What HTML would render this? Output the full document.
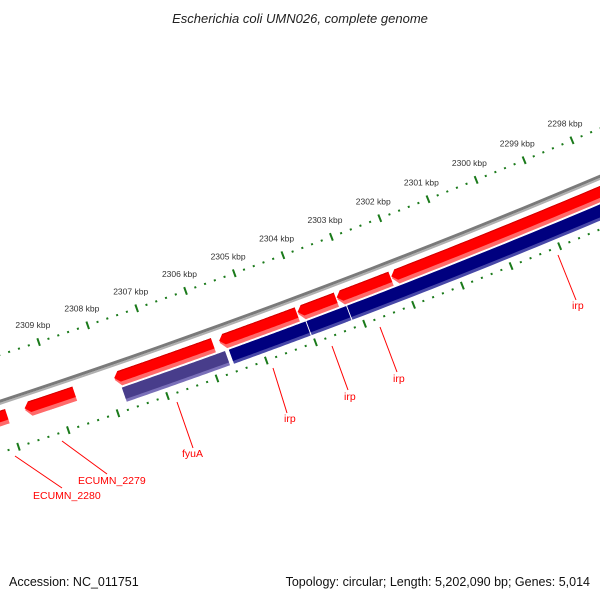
<!DOCTYPE html>
<html><head><meta charset="utf-8"><style>
html,body{margin:0;padding:0;background:#fff;}
svg{display:block;font-family:"Liberation Sans","DejaVu Sans",sans-serif;}
</style></head><body>
<svg id="map" width="600" height="600" viewBox="0 0 600 600" xmlns="http://www.w3.org/2000/svg">
<text x="300" y="23" text-anchor="middle" font-size="13" font-style="italic" fill="#222">Escherichia coli UMN026, complete genome</text>
<g id="rings"></g>
<g id="labels"></g>
<text x="9" y="586" font-size="12.5" fill="#111">Accession: NC_011751</text>
<text x="590" y="586" text-anchor="end" font-size="12.5" fill="#111">Topology: circular; Length: 5,202,090 bp; Genes: 5,014</text>
</svg>
<script>
const tickLabels=["2298 kbp","2299 kbp","2300 kbp","2301 kbp","2302 kbp","2303 kbp","2304 kbp","2305 kbp","2306 kbp","2307 kbp","2308 kbp","2309 kbp"];
const tickKbp=[2298,2299,2300,2301,2302,2303,2304,2305,2306,2307,2308,2309];
const fwdLo=[2310.02,2308.66,2305.85,2304.14,2303.34,2302.22,2296];
const fwdHi=[2311,2309.66,2307.85,2305.72,2304.12,2303.32,2302.2];
const revLo=[2305.68,2304.04,2303.21,2296];
const revHi=[2307.77,2305.6,2304.02,2303.19];
const revColor=["#483d8b","#00007f","#00007f","#00007f"];

const NS="http://www.w3.org/2000/svg";
const CX=-2433,CY=-6998,A0=71.39,K0=2309,DEG=0.3836;
function ang(k){return (A0-(K0-k)*DEG)*Math.PI/180;}
function pt(k,r){const a=ang(k);return [CX+r*Math.cos(a),CY+r*Math.sin(a)];}
const rings=document.getElementById('rings');
function mk(tag,attrs,parent){const e=document.createElementNS(NS,tag);for(const k in attrs)e.setAttribute(k,attrs[k]);(parent||rings).appendChild(e);return e;}
function arcPts(k1,k2,r){const p=[];const n=40;for(let i=0;i<=n;i++){p.push(pt(k1+(k2-k1)*i/n,r));}return p;}
function poly(pts){return pts.map(p=>p[0].toFixed(2)+","+p[1].toFixed(2)).join(" ");}

// backbone
const bb1=mk('polyline',{points:poly(arcPts(2290,2315,7789)),fill:'none',stroke:'#7a7a7a','stroke-width':3});


const bb2=mk('polyline',{points:poly(arcPts(2290,2315,7791.5)),fill:'none',stroke:'#b0b0b0','stroke-width':2});



// tick rings
const ringR=[7745,7838];
ringR.forEach((r,ri)=>{
  for(let i=0;i<=80;i++){
    const k=2296+i*0.2;
    const major=Math.abs(k-Math.round(k))<1e-6;
    const hl=major?4:1;
    const a=pt(k,r-hl),b=pt(k,r+hl);
    const t=mk('line',{x1:a[0],y1:a[1],x2:b[0],y2:b[1],stroke:'#1a7a1a','stroke-width':2});
    
    
  }
});
tickKbp.forEach((k,i)=>{
  const p=pt(k,7727);
  const t=mk('text',{x:p[0],y:p[1]+3,'text-anchor':'middle','font-size':'8.5',fill:'#333'});
  t.textContent=tickLabels[i];
  
  
});

function arrowShape(lo,hi,r1,r2,head){
  const ah=head?0.1:0;
  const pts=arcPts(lo,hi-ah,r1);
  pts.push(pt(hi,(r1+r2)/2));
  return pts.concat(arcPts(hi-ah,lo,r2));
}
// forward features
fwdLo.forEach((lo,i)=>{
  const hi=fwdHi[i];
  const g=mk('g',{});
  
  
  mk('polygon',{points:poly(arrowShape(lo,hi,7798,7813,true)),fill:'#ff6a6a'},g);
  mk('polygon',{points:poly(arrowShape(lo,hi,7798,7809,true)),fill:'#ff0000'},g);
  mk('polyline',{points:poly(arcPts(lo,hi-0.1,7798.5)),fill:'none',stroke:'#d00000','stroke-width':1},g);
});
// reverse features
revLo.forEach((lo,i)=>{
  const hi=revHi[i];
  const g=mk('g',{});
  
  
  mk('polygon',{points:poly(arrowShape(lo,hi,7815,7830,false)),fill:i===0?'#7a70b8':'#4848a8'},g);
  mk('polygon',{points:poly(arrowShape(lo,hi,7815,7827,false)),fill:revColor[i]},g);
});

// labels
const labs=[
 ["ECUMN_2280",15,456,62,488,33,499,"start"],
 ["ECUMN_2279",62,441,107,474,78,484,"start"],
 ["fyuA",177,402,193,448,182,457,"start"],
 ["irp",273,368,287,413,284,422,"start"],
 ["irp",332,346,348,390,344,400,"start"],
 ["irp",380,327,397,372,393,382,"start"],
 ["irp",558,255,576,300,572,309,"start"]
];
const lg=document.getElementById('labels');
labs.forEach(l=>{
  const ln=mk('line',{x1:l[1],y1:l[2],x2:l[3],y2:l[4],stroke:'#ff0000','stroke-width':1},lg);
  
  
  const t=mk('text',{x:l[5],y:l[6],'font-size':'10.5',fill:'#ff0000'},lg);
  t.textContent=l[0];
  
  
});
</script>
</body></html>
